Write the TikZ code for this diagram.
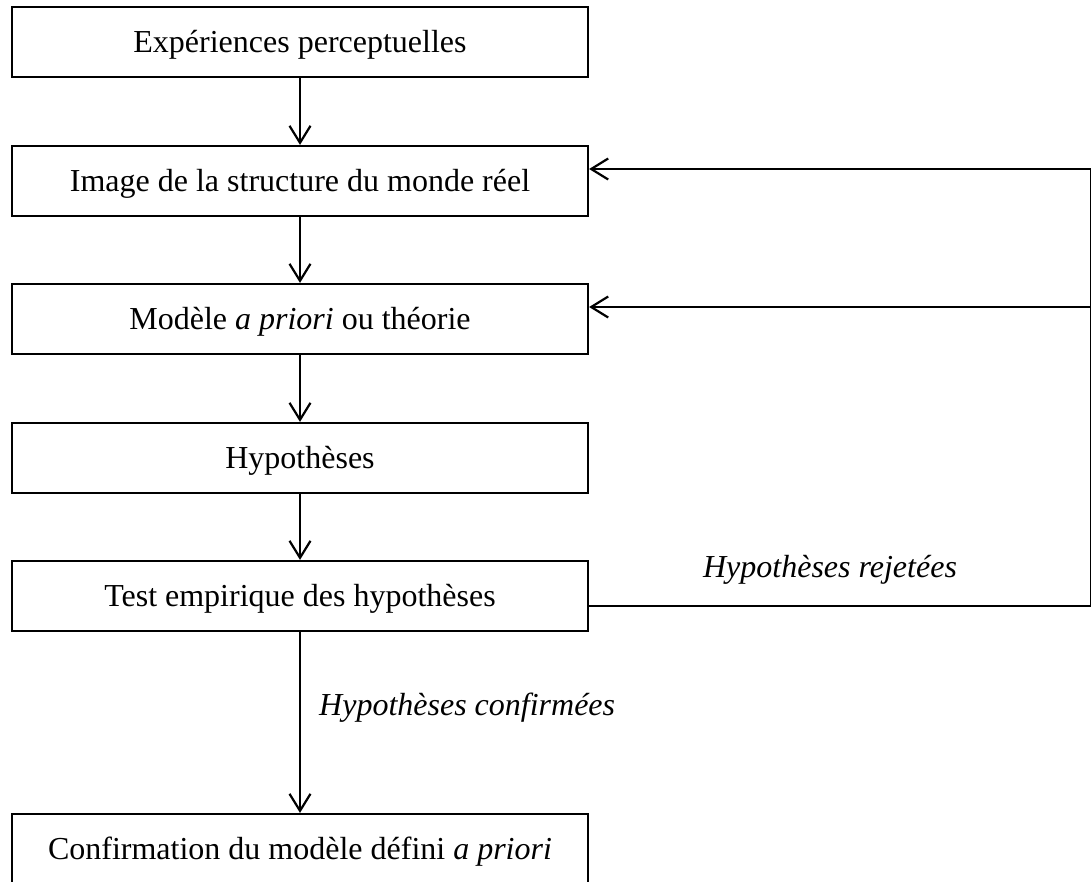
\documentclass[tikz,border=0pt]{standalone}
\usepackage{fontspec}
\setmainfont{Liberation Serif}
\usetikzlibrary{arrows.meta}
\begin{document}
\begin{tikzpicture}[x=1pt,y=-1pt,
  stepbox/.style={draw=black, line width=2.2pt, minimum width=576pt, minimum height=70pt,
    inner sep=0pt, text height=22pt, text depth=2pt, font=\fontsize{32}{38}\selectfont},
  lbl/.style={font=\fontsize{32}{38}\selectfont\itshape, inner sep=0pt},
  line/.style={draw=black, line width=2.2pt},
  arr/.style={line, -{Straight Barb[length=17pt,width=21pt,line width=2.2pt]}}]
\useasboundingbox (0,0) rectangle (1091,881);
\node[stepbox] (b1) at (300,42) {Expériences perceptuelles};
\node[stepbox] (b2) at (300,181) {Image de la structure du monde réel};
\node[stepbox] (b3) at (300,319) {Modèle \textit{a priori} ou théorie};
\node[stepbox] (b4) at (300,458) {Hypothèses};
\node[stepbox] (b5) at (300,596) {Test empirique des hypothèses};
\node[stepbox] (b6) at (300,849) {Confirmation du modèle défini \textit{a priori}};
\draw[arr] (b1) -- (b2);
\draw[arr] (b2) -- (b3);
\draw[arr] (b3) -- (b4);
\draw[arr] (b4) -- (b5);
\draw[arr] (b5) -- (b6);
\coordinate (r5) at (1091.5,606);
\coordinate (r2) at (1091.5,169);
\coordinate (r3) at (1091.5,307);
\draw[line] ([yshift=-10pt]b5.east) -- (r5) -- (r2);
\draw[arr] (r2) -- (b2.east |- r2);
\draw[arr] (r3) -- (b3.east |- r3);
\node[lbl, anchor=base] (rej) at (830,577) {Hypothèses rejetées};
\node[lbl, anchor=base west] (conf) at (319,715) {Hypothèses confirmées};
\end{tikzpicture}
\end{document}
